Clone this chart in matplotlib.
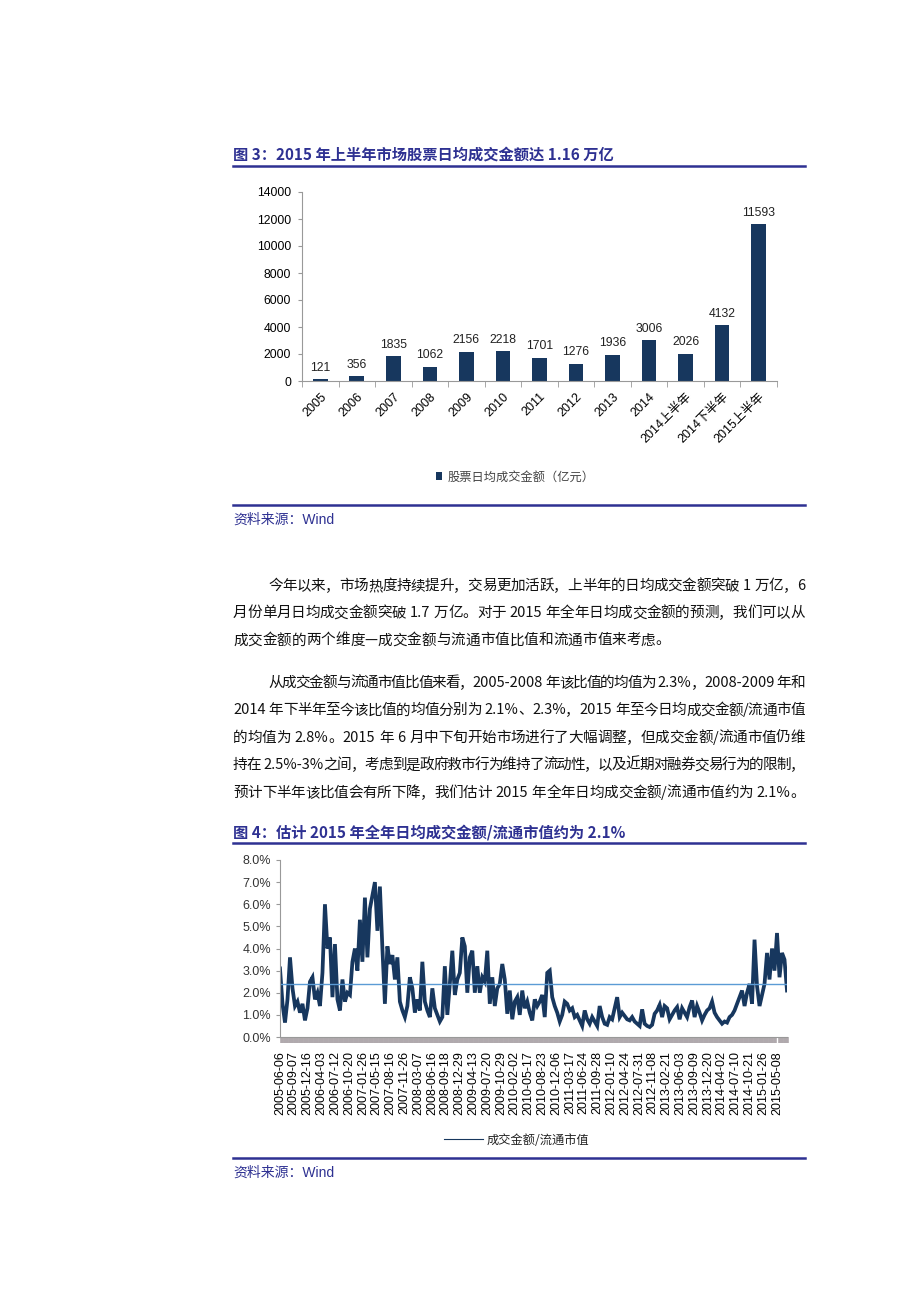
import re
import numpy as np
import matplotlib
matplotlib.use('Agg')
import matplotlib.pyplot as plt
from matplotlib.lines import Line2D
from matplotlib.transforms import IdentityTransform

plt.rcParams['font.family'] = ['Liberation Sans', 'Noto Sans CJK SC', 'DejaVu Sans']

# 图3：股票日均成交金额（亿元）
bar_labels = ['2005', '2006', '2007', '2008', '2009', '2010', '2011', '2012',
              '2013', '2014', '2014上半年', '2014下半年', '2015上半年']
bar_values = [121, 356, 1835, 1062, 2156, 2218, 1701, 1276, 1936, 3006, 2026, 4132, 11593]

# 图4：成交金额/流通市值（%）
date_labels = ['2005-06-06', '2005-09-07', '2005-12-16', '2006-04-03', '2006-07-12',
               '2006-10-20', '2007-01-26', '2007-05-15', '2007-08-16', '2007-11-26',
               '2008-03-07', '2008-06-16', '2008-09-18', '2008-12-29', '2009-04-13',
               '2009-07-20', '2009-10-29', '2010-02-02', '2010-05-17', '2010-08-23',
               '2010-12-06', '2011-03-17', '2011-06-24', '2011-09-28', '2012-01-10',
               '2012-04-24', '2012-07-31', '2012-11-08', '2013-02-21', '2013-06-03',
               '2013-09-09', '2013-12-20', '2014-04-02', '2014-07-10', '2014-10-21',
               '2015-01-26', '2015-05-08']
ratio = [
    3.1, 1.5, 0.65, 1.7, 3.6, 2.2, 1.4, 1.6, 1.1, 1.5,
    0.75, 1.3, 2.5, 2.7, 1.7, 2.0, 1.4, 2.9, 6.0, 4.0,
    4.5, 1.8, 4.2, 1.7, 1.2, 2.6, 1.6, 2.0, 1.9, 3.4,
    4.0, 3.0, 5.3, 3.4, 6.3, 3.6, 5.8, 6.4, 7.0, 4.8,
    6.8, 4.0, 1.5, 4.1, 3.3, 3.7, 2.6, 3.6, 1.6, 1.2,
    0.9, 1.4, 2.7, 2.2, 1.1, 1.7, 1.2, 3.4, 1.6, 1.2,
    0.9, 2.2, 1.3, 1.0, 0.7, 0.9, 3.2, 1.0, 2.4, 3.9,
    1.9, 2.6, 2.9, 4.5, 4.1, 2.0, 3.6, 3.9, 2.0, 3.2,
    2.0, 2.7, 2.5, 3.9, 1.5, 2.7, 1.4, 2.2, 2.4, 3.3,
    2.6, 1.05, 2.1, 0.8, 1.6, 1.8, 1.0, 2.1, 1.3, 1.6,
    1.1, 0.75, 1.7, 1.4, 1.6, 1.9, 0.9, 2.9, 3.0, 1.8,
    1.4, 1.1, 0.7, 1.0, 1.6, 1.5, 1.2, 1.3, 0.9, 1.0,
    0.75, 0.5, 1.2, 0.8, 0.6, 0.9, 0.7, 0.5, 1.4, 0.9,
    0.6, 0.55, 0.9, 0.8, 1.3, 1.8, 0.9, 1.1, 0.95, 0.8,
    0.75, 0.9, 0.7, 0.6, 0.5, 1.25, 0.6, 0.5, 0.45, 0.55,
    1.05, 1.2, 1.45, 0.9, 1.4, 1.3, 0.8, 1.0, 1.2, 1.35,
    0.8, 1.3, 1.1, 0.9, 1.35, 1.65, 0.9, 1.4, 1.1, 0.75,
    1.0, 1.2, 1.3, 1.6, 1.1, 0.9, 0.75, 0.6, 0.7, 0.65,
    0.9, 1.0, 1.2, 1.5, 1.8, 2.1, 1.4, 2.0, 2.4, 1.5,
    4.4, 2.3, 1.4, 1.9, 2.4, 3.8, 2.6, 4.0, 3.0, 4.7,
    2.7, 3.8, 3.5, 2.1]
ratio_mean = 2.4

para1 = ['今年以来，市场热度持续提升，交易更加活跃，上半年的日均成交金额突破 1 万亿，6',
         '月份单月日均成交金额突破 1.7 万亿。对于 2015 年全年日均成交金额的预测，我们可以从',
         '成交金额的两个维度—成交金额与流通市值比值和流通市值来考虑。']
para2 = ['从成交金额与流通市值比值来看，2005-2008 年该比值的均值为 2.3%，2008-2009 年和',
         '2014 年下半年至今该比值的均值分别为 2.1%、2.3%，2015 年至今日均成交金额/流通市值',
         '的均值为 2.8%。2015 年 6 月中下旬开始市场进行了大幅调整，但成交金额/流通市值仍维',
         '持在 2.5%-3%之间，考虑到是政府救市行为维持了流动性，以及近期对融券交易行为的限制，',
         '预计下半年该比值会有所下降，我们估计 2015 年全年日均成交金额/流通市值约为 2.1%。']

W, H = 920, 1302
navy = '#17375e'
title_c = '#2e3192'
grey = '#999999'

fig = plt.figure(figsize=(W / 100, H / 100), dpi=100)


def fx(x):
    return x / W


def fy(y):
    return 1 - y / H


def rule(y):
    fig.add_artist(Line2D([fx(233), fx(805)], [fy(y), fy(y)], color=title_c, lw=1.8))


def put_line(s, x0, y, x1=None, size=10.5):
    toks = re.findall(r' |[0-9A-Za-z.%\-/]+|.', s)
    r = fig.canvas.get_renderer()
    items = []
    for t in toks:
        if t == ' ':
            items.append((None, size * 100 / 72 * 0.28))
        else:
            txt = fig.text(0, 0, t, fontsize=size, va='center', ha='left', color='#111111',
                           family=['Noto Sans CJK SC'], transform=IdentityTransform())
            items.append((txt, txt.get_window_extent(r).width))
    total = sum(w for _, w in items)
    gap = 0 if x1 is None else (x1 - x0 - total) / (len(items) - 1)
    x = x0
    for txt, w in items:
        if txt is not None:
            txt.set_position((x, H - y))
        x += w + gap


# ---- 图3 ----
fig.text(fx(233), fy(155), '图 3：2015 年上半年市场股票日均成交金额达 1.16 万亿', fontsize=11,
         fontweight='bold', color=title_c, va='center', family=['Noto Sans CJK SC'])
rule(166)

ax1 = fig.add_axes([fx(302), fy(381), 475 / W, 189 / H])
pos = np.arange(len(bar_values))
bars = ax1.bar(pos, bar_values, width=0.4, color=navy, label='股票日均成交金额（亿元）')
ax1.bar_label(bars, padding=4, fontsize=8.8, color='#222222')
ax1.set_xlim(-0.5, len(bar_values) - 0.5)
ax1.set_ylim(0, 14000)
ax1.set_yticks(np.arange(0, 14001, 2000))
ax1.set_xticks(pos)
ax1.set_xticklabels(bar_labels, rotation=45, ha='right', rotation_mode='anchor')
ax1.set_xticks(np.arange(len(bar_values) + 1) - 0.5, minor=True)
ax1.tick_params(axis='x', which='major', length=0, labelsize=9, pad=7)
ax1.tick_params(axis='x', which='minor', length=4, color=grey)
ax1.tick_params(axis='y', length=3, color=grey, labelsize=8.8, pad=5)
for s in ['top', 'right']:
    ax1.spines[s].set_visible(False)
for s in ['left', 'bottom']:
    ax1.spines[s].set_color(grey)
ax1.legend(loc='center', bbox_to_anchor=(fx(515), fy(477)), bbox_transform=fig.transFigure,
           frameon=False, handlelength=0.55, handleheight=0.55, handletextpad=0.4,
           prop={'size': 8.8, 'family': ['Noto Sans CJK SC']}, labelcolor='#444444')

rule(505)
fig.text(fx(233), fy(520), '资料来源：Wind', fontsize=10, color=title_c, va='center')

# ---- 正文 ----
y0 = 586
for i, s in enumerate(para1):
    put_line(s, 268 if i == 0 else 233, y0 + i * 27.2, None if i == 2 else 805)
y0 = 683
for i, s in enumerate(para2):
    put_line(s, 268 if i == 0 else 233, y0 + i * 27.4, 805)

# ---- 图4 ----
fig.text(fx(233), fy(832), '图 4：估计 2015 年全年日均成交金额/流通市值约为 2.1%', fontsize=11,
         fontweight='bold', color=title_c, va='center', family=['Noto Sans CJK SC'])
rule(843)

ax2 = fig.add_axes([fx(280), fy(1037), 507 / W, 177 / H])
idx = np.arange(len(ratio))
ax2.plot(idx, ratio, color=navy, lw=2.7, label='成交金额/流通市值', solid_joinstyle='miter')
ax2.axhline(ratio_mean, color='#5b9bd5', lw=1.0)
ax2.set_xlim(0, len(ratio) - 1)
ax2.set_ylim(0, 8)
ax2.set_yticks(np.arange(0, 9, 1))
ax2.set_yticklabels(['%.1f%%' % v for v in np.arange(0, 9, 1)])
ax2.set_xticks(np.linspace(0, 199, len(date_labels)))
ax2.set_xticklabels(date_labels, rotation=90, ha='center', va='top')
ax2.set_xticks(idx, minor=True)
ax2.tick_params(axis='x', which='major', length=0, labelsize=9, pad=10)
ax2.tick_params(axis='x', which='minor', length=4, width=2.6, color='#b0a9ad')
ax2.tick_params(axis='y', length=3, color=grey, labelsize=9, labelcolor='#333333')
for s in ['top', 'right']:
    ax2.spines[s].set_visible(False)
for s in ['left', 'bottom']:
    ax2.spines[s].set_color(grey)
leg = ax2.legend(loc='center', bbox_to_anchor=(fx(517), fy(1140)), bbox_transform=fig.transFigure,
                 frameon=False, handlelength=3.2, handletextpad=0.3,
                 prop={'size': 8.8, 'family': ['Noto Sans CJK SC']}, labelcolor='#222222')
leg.get_lines()[0].set_linewidth(0.8)

rule(1158)
fig.text(fx(233), fy(1173), '资料来源：Wind', fontsize=10, color=title_c, va='center')

fig.savefig('out.png', dpi=100)
